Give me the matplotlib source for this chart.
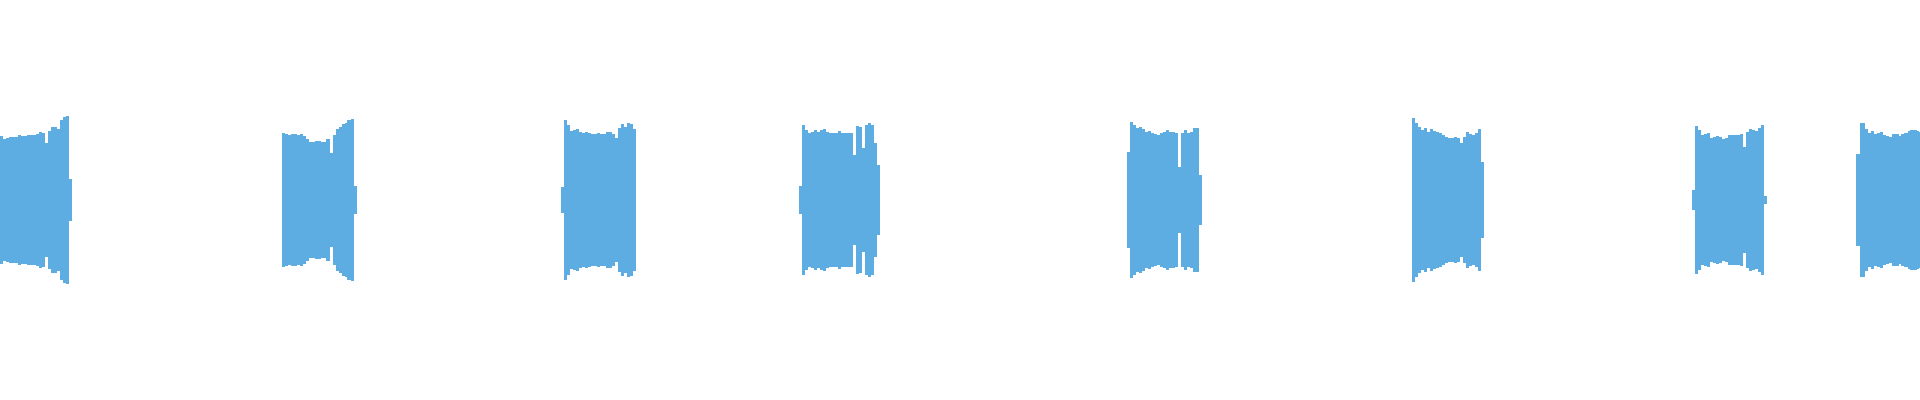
import numpy as np
import matplotlib
matplotlib.use("Agg")
import matplotlib.pyplot as plt

# waveform: 8 bursts, envelope (peak amplitude, 0..1)
step = 0.03          # seconds per envelope sample
duration = 19.2      # seconds shown

# start time (s) of the first sample of each burst
burst_starts = [-0.015, 2.83, 5.625, 8.005, 11.283, 14.137, 16.937, 18.58]

# peak amplitude of each burst, in percent of full scale
burst1 = [68, 64, 61, 62, 63, 63, 63, 65, 64, 64, 65, 65, 65, 66, 68, 67, 57, 69,
          73, 73, 71, 80, 83, 84, 21]
burst2 = [67, 66, 65, 66, 66, 65, 66, 64, 61, 58, 58, 59, 59, 58, 58, 61, 47, 65,
          71, 73, 76, 77, 80, 81, 14]
burst3 = [13, 80, 75, 69, 70, 71, 68, 67, 68, 67, 66, 66, 67, 66, 66, 68, 68, 66,
          62, 72, 76, 73, 77, 76, 71]
burst4 = [14, 75, 70, 67, 68, 70, 68, 70, 71, 68, 67, 67, 67, 69, 67, 67, 67, 67,
          45, 74, 73, 52, 75, 77, 75, 57, 35]
burst5 = [48, 78, 75, 72, 73, 71, 68, 69, 67, 66, 65, 67, 68, 70, 68, 68, 67, 33,
          67, 70, 67, 68, 72, 72, 25]
burst6 = [82, 77, 73, 70, 72, 68, 71, 69, 68, 67, 65, 63, 62, 62, 63, 62, 57, 63,
          68, 66, 65, 67, 71, 38]
burst7 = [10, 74, 70, 65, 66, 67, 62, 63, 64, 63, 61, 62, 65, 65, 65, 65, 66, 53,
          68, 71, 70, 69, 72, 75, 4]
burst8 = [46, 77, 77, 71, 67, 69, 66, 67, 68, 65, 64, 63, 66, 66, 64, 66, 67, 69,
          70, 70, 69, 68]

bursts = [burst1, burst2, burst3, burst4, burst5, burst6, burst7, burst8]
wave_color = "#5DACE2"

fig = plt.figure(figsize=(19.2, 4), dpi=100)
ax = fig.add_axes([0, 0, 1, 1])

for start, vals in zip(burst_starts, bursts):
    amp = np.array(vals) / 200.0
    edges = start - step / 2 + step * np.arange(len(amp) + 1)
    amp = np.append(amp, amp[-1])
    ax.fill_between(edges, -amp, amp, step="post", color=wave_color, linewidth=0)

ax.set_xlim(0, duration)
ax.set_ylim(-1, 1)
ax.axis("off")

fig.savefig("out.png", dpi=100, facecolor="white")
